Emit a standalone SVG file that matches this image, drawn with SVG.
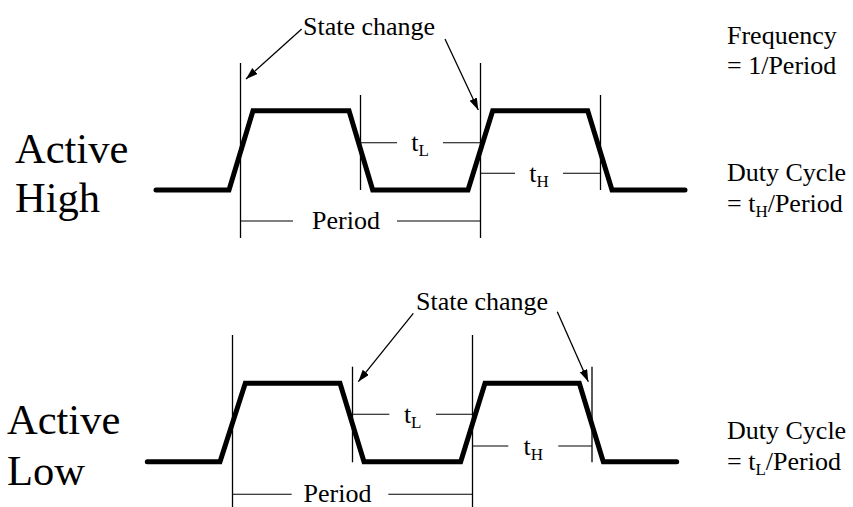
<svg xmlns="http://www.w3.org/2000/svg" width="853" height="507" viewBox="0 0 853 507">
<style>
  text { font-family: 'Liberation Serif', serif; fill: #000; }
  .lbl { font-size: 26px; }
  .big { font-size: 42.5px; }
  .sub { font-size: 17px; }
  .wave { fill: none; stroke: #000; stroke-width: 5; stroke-linejoin: miter; stroke-linecap: round; }
  .ext { stroke: #000; stroke-width: 1.3; fill: none; }
  .dim { stroke: #000; stroke-width: 1.1; fill: none; }
  .arr { stroke: #000; stroke-width: 1.3; fill: none; marker-end: url(#ah); }
</style>
<defs>
  <marker id="ah" markerUnits="userSpaceOnUse" markerWidth="14" markerHeight="10" refX="12" refY="4" orient="auto">
    <path d="M0,0 L12,4 L0,8 Z" fill="#000"/>
  </marker>
</defs>
<rect width="853" height="507" fill="#fff"/>

<g id="active-high" font-family="Liberation Serif, serif">
  <g id="label-active-high">
    <text class="big" x="15" y="163">Active</text>
    <text class="big" x="15" y="211.5">High</text>
  </g>
  <g id="wave-high">
    <polyline class="wave" points="156,190 229,190 253,110.7 349,110.7 372.7,190 468,190 492.7,110.7 587.7,110.7 612,190 685,190"/>
  </g>
  <g id="extensions-high">
    <line class="ext" x1="240.5" y1="63" x2="240.5" y2="238"/>
    <line class="ext" x1="360.5" y1="95" x2="360.5" y2="190"/>
    <line class="ext" x1="480.5" y1="63" x2="480.5" y2="238"/>
    <line class="ext" x1="600.5" y1="95" x2="600.5" y2="190"/>
  </g>
  <g id="tl-high">
    <line class="dim" x1="360.5" y1="142.7" x2="397" y2="142.7"/>
    <line class="dim" x1="443" y1="142.7" x2="480.5" y2="142.7"/>
    <text class="lbl" x="420" y="151" text-anchor="middle">t<tspan class="sub" dy="5">L</tspan></text>
  </g>
  <g id="th-high">
    <line class="dim" x1="480.5" y1="173.3" x2="515" y2="173.3"/>
    <line class="dim" x1="563" y1="173.3" x2="600.5" y2="173.3"/>
    <text class="lbl" x="539" y="182" text-anchor="middle">t<tspan class="sub" dy="5">H</tspan></text>
  </g>
  <g id="period-high">
    <line class="dim" x1="240.5" y1="221" x2="293" y2="221"/>
    <line class="dim" x1="397" y1="221" x2="480.5" y2="221"/>
    <text class="lbl" x="312" y="228.5">Period</text>
  </g>
  <g id="state-change-high">
    <text class="lbl" x="303" y="35">State change</text>
  </g>
  <g id="freq-note">
    <text class="lbl" x="727" y="44">Frequency</text>
    <text class="lbl" x="727" y="74">= 1/Period</text>
  </g>
  <g id="duty-high">
    <text class="lbl" x="727" y="181">Duty Cycle</text>
    <text class="lbl" x="727" y="212">= t<tspan class="sub" dy="5">H</tspan><tspan dy="-5">/Period</tspan></text>
  </g>
</g>

<g id="active-low" font-family="Liberation Serif, serif">
  <g id="label-active-low">
    <text class="big" x="7" y="434">Active</text>
    <text class="big" x="7" y="485">Low</text>
  </g>
  <g id="wave-low">
    <polyline class="wave" points="147.3,461.7 220,461.7 245.3,383.3 340,383.3 364,461.7 460.7,461.7 485,383.3 579.3,383.3 603.3,461.7 676.7,461.7"/>
  </g>
  <g id="extensions-low">
    <line class="ext" x1="232.5" y1="335" x2="232.5" y2="507"/>
    <line class="ext" x1="352.5" y1="366.7" x2="352.5" y2="462.3"/>
    <line class="ext" x1="472.5" y1="335" x2="472.5" y2="507"/>
    <line class="ext" x1="592" y1="366.7" x2="592" y2="462.3"/>
  </g>
  <g id="tl-low">
    <line class="dim" x1="352.5" y1="414.3" x2="389.3" y2="414.3"/>
    <line class="dim" x1="436" y1="414.3" x2="472.5" y2="414.3"/>
    <text class="lbl" x="412.7" y="423" text-anchor="middle">t<tspan class="sub" dy="5">L</tspan></text>
  </g>
  <g id="th-low">
    <line class="dim" x1="472.5" y1="446" x2="508.3" y2="446"/>
    <line class="dim" x1="558.3" y1="446" x2="592" y2="446"/>
    <text class="lbl" x="533.3" y="454.5" text-anchor="middle">t<tspan class="sub" dy="5">H</tspan></text>
  </g>
  <g id="period-low">
    <line class="dim" x1="232.5" y1="494.3" x2="291.7" y2="494.3"/>
    <line class="dim" x1="388.3" y1="494.3" x2="472.5" y2="494.3"/>
    <text class="lbl" x="303.5" y="501.5">Period</text>
  </g>
  <g id="state-change-low">
    <text class="lbl" x="416" y="309.5">State change</text>
  </g>
  <g id="duty-low">
    <text class="lbl" x="727" y="439">Duty Cycle</text>
    <text class="lbl" x="727" y="470">= t<tspan class="sub" dy="5">L</tspan><tspan dy="-5">/Period</tspan></text>
  </g>
</g>

<g id="connectors">
  <line class="arr" x1="301.7" y1="29" x2="246" y2="79"/>
  <line class="arr" x1="445" y1="39" x2="478.3" y2="110"/>
  <line class="arr" x1="413.3" y1="313.3" x2="358.3" y2="381.7"/>
  <line class="arr" x1="557.3" y1="311.7" x2="588.3" y2="381.7"/>
</g>
</svg>
